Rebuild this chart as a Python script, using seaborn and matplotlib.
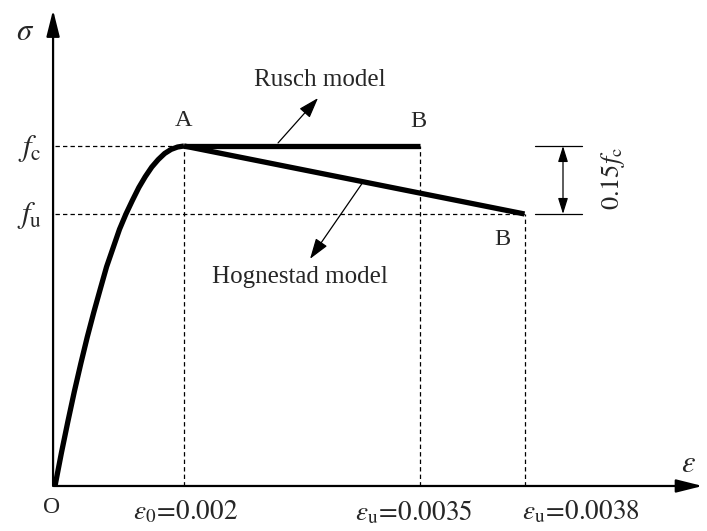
import matplotlib
matplotlib.use("Agg")
import matplotlib.pyplot as plt
import seaborn as sns
import pandas as pd

sns.set_style("white")
plt.rcParams['font.family'] = ['Liberation Serif', 'DejaVu Serif']
plt.rcParams['mathtext.fontset'] = 'stix'

# ---- data (schematic positions) ----
# ascending branch (strain position, stress / fc)
asc_strain = [0.0, 0.05, 0.1, 0.15, 0.2, 0.25, 0.3, 0.35, 0.4, 0.45, 0.5,
              0.55, 0.6, 0.65, 0.7, 0.75, 0.8, 0.85, 0.9, 0.95, 1.0]
asc_stress = [0.0, 0.098, 0.19, 0.278, 0.36, 0.438, 0.51, 0.578, 0.645, 0.70, 0.755,
              0.80, 0.84, 0.878, 0.91, 0.938, 0.96, 0.978, 0.99, 0.997, 1.0]
# Rusch model plateau A -> B
rusch_strain = [1.0, 2.83]
rusch_stress = [1.0, 1.0]
# Hognestad model descending A -> B
hog_strain = [1.0, 3.64]
hog_stress = [1.0, 0.80]
fc_level = 1.0
fu_level = 0.80
tick_pos = [1.0, 2.83, 3.64]
tick_labels = [r'$\varepsilon_0\!=\!0.002$', r'$\varepsilon_{\rm u}\!=\!0.0035$', r'$\varepsilon_{\rm u}\!=\!0.0038$']
tick_label_x = [1.008, 2.78, 4.08]

fig = plt.figure(figsize=(7.07, 5.31), dpi=100)
ax = fig.add_axes([0, 0, 1, 1])

# dashed guides
dash = dict(color='k', lw=0.9, linestyle=(0, (3.5, 2.5)))
ax.plot([0, rusch_strain[0]], [fc_level, fc_level], **dash)
ax.plot([0, hog_strain[-1]], [fu_level, fu_level], **dash)
ax.plot([tick_pos[0], tick_pos[0]], [0, fc_level], **dash)
ax.plot([tick_pos[1], tick_pos[1]], [0, rusch_stress[-1]], **dash)
ax.plot([tick_pos[2], tick_pos[2]], [0, hog_stress[-1]], **dash)

# curves
df_asc = pd.DataFrame({'strain': asc_strain, 'stress': asc_stress})
df_r = pd.DataFrame({'strain': rusch_strain, 'stress': rusch_stress})
df_h = pd.DataFrame({'strain': hog_strain, 'stress': hog_stress})
for d in (df_asc, df_r, df_h):
    sns.lineplot(data=d, x='strain', y='stress', ax=ax, color='k', lw=3.8,
                 sort=False, estimator=None, solid_capstyle='butt', solid_joinstyle='round')
ax.set_xlim(-0.4264, 5.0543)
ax.set_ylim(-0.1324, 1.4294)
ax.axis('off')

# axes with arrows
axarrow = dict(arrowstyle='-|>,head_length=0.8,head_width=0.2', lw=1.6, color='k',
               shrinkA=0, shrinkB=0, mutation_scale=20)
ax.annotate('', xy=(5.02, 0), xytext=(-0.01, 0), arrowprops=axarrow)
ax.annotate('', xy=(-0.015, 1.40), xytext=(-0.015, 0), arrowprops=axarrow)

# axis labels
ax.text(-0.233, 1.335, r'$\sigma$', fontsize=22, ha='center', va='center')
ax.text(4.907, 0.062, r'$\varepsilon$', fontsize=22, ha='center', va='center')
ax.text(-0.194, 0.994, r'$f_{\rm c}$', fontsize=22, ha='center', va='center')
ax.text(-0.194, 0.797, r'$f_{\rm u}$', fontsize=22, ha='center', va='center')
ax.text(-0.023, -0.062, 'O', fontsize=17, ha='center', va='center')
for x, lab in zip(tick_label_x, tick_labels):
    ax.text(x, -0.078, lab, fontsize=19.5, ha='center', va='center')

# point labels
ax.text(1.0, 1.074, 'A', fontsize=17.5, ha='center', va='center')
ax.text(2.814, 1.071, 'B', fontsize=17.5, ha='center', va='center')
ax.text(3.465, 0.724, 'B', fontsize=17.5, ha='center', va='center')

# model annotations
ptr = dict(arrowstyle='-|>,head_length=0.9,head_width=0.3', lw=0.9, color='k',
           shrinkA=0, shrinkB=0, mutation_scale=14)
ax.annotate('', xy=(2.039, 1.141), xytext=(1.729, 1.009), arrowprops=ptr)
ax.text(2.054, 1.194, 'Rusch model', fontsize=18, ha='center', va='center')
ax.annotate('', xy=(1.977, 0.668), xytext=(2.388, 0.894), arrowprops=ptr)
ax.text(1.899, 0.615, 'Hognestad model', fontsize=18, ha='center', va='center')

# dimension 0.15 fc
ax.plot([3.721, 4.085], [fc_level, fc_level], color='k', lw=0.9)
ax.plot([3.721, 4.085], [fu_level, fu_level], color='k', lw=0.9)
dim = dict(arrowstyle='<|-|>,head_length=0.8,head_width=0.25', lw=0.9, color='k',
           shrinkA=0, shrinkB=0, mutation_scale=12)
ax.annotate('', xy=(3.938, fc_level), xytext=(3.938, fu_level), arrowprops=dim)
ax.text(4.326, 0.905, r'$0.15f_{\rm c}$', fontsize=19, rotation=90, ha='center', va='center')

fig.savefig('out.png', dpi=100)
